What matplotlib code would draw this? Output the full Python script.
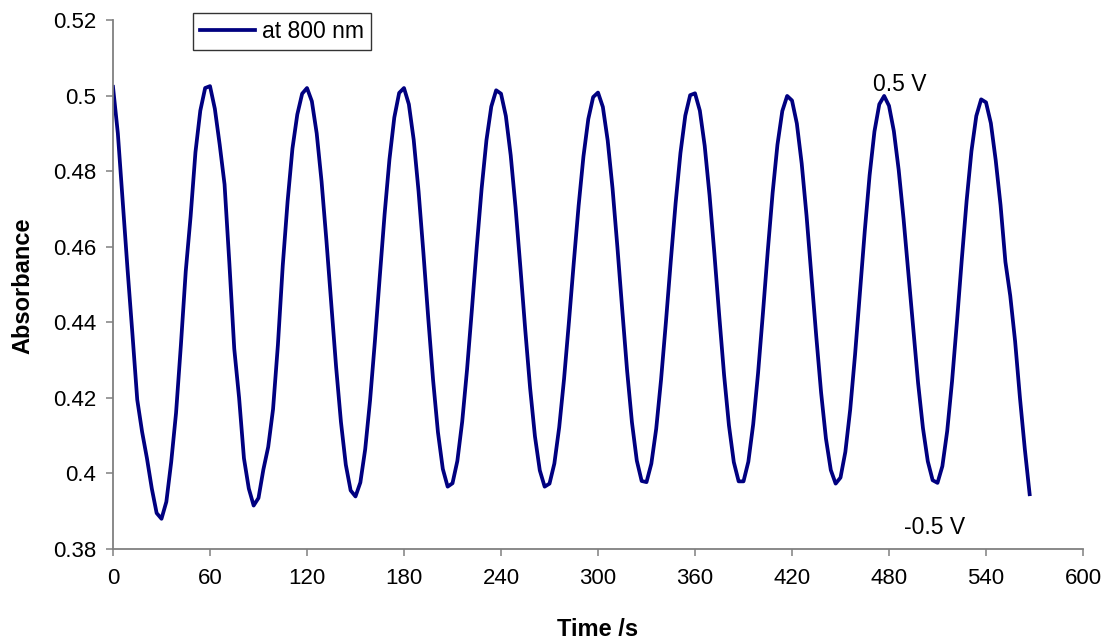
import numpy as np
import matplotlib
matplotlib.use("Agg")
import matplotlib.pyplot as plt
from matplotlib.ticker import FuncFormatter

plt.rcParams['font.family'] = ['Liberation Sans', 'DejaVu Sans']

# time in s (sampled every 3 s)
time_s = np.arange(0, 570, 3)

# absorbance at 800 nm
absorbance = [
    0.5023, 0.4900, 0.4720, 0.4540, 0.4370, 0.4195, 0.4110, 0.4040, 0.3960, 0.3895,
    0.3880, 0.3925, 0.4030, 0.4160, 0.4340, 0.4535, 0.4680, 0.4850, 0.4960, 0.5020,
    0.5025, 0.4965, 0.4870, 0.4765, 0.4555, 0.4330, 0.4200, 0.4040, 0.3960, 0.3915,
    0.3935, 0.4010, 0.4070, 0.4170, 0.4340, 0.4550, 0.4720, 0.4860, 0.4950, 0.5005,
    0.5020, 0.4985, 0.4900, 0.4773, 0.4617, 0.4448, 0.4282, 0.4136, 0.4023, 0.3955,
    0.3939, 0.3976, 0.4064, 0.4193, 0.4350, 0.4520, 0.4686, 0.4831, 0.4942, 0.5007,
    0.5020, 0.4977, 0.4883, 0.4747, 0.4584, 0.4411, 0.4247, 0.4109, 0.4012, 0.3965,
    0.3974, 0.4033, 0.4137, 0.4275, 0.4434, 0.4599, 0.4753, 0.4882, 0.4971, 0.5014,
    0.5005, 0.4946, 0.4842, 0.4704, 0.4545, 0.4380, 0.4226, 0.4098, 0.4008, 0.3965,
    0.3973, 0.4026, 0.4122, 0.4250, 0.4400, 0.4557, 0.4708, 0.4839, 0.4938, 0.4996,
    0.5008, 0.4970, 0.4881, 0.4754, 0.4599, 0.4433, 0.4272, 0.4135, 0.4034, 0.3980,
    0.3977, 0.4026, 0.4118, 0.4248, 0.4400, 0.4561, 0.4715, 0.4848, 0.4947, 0.5001,
    0.5006, 0.4960, 0.4867, 0.4736, 0.4581, 0.4417, 0.4260, 0.4127, 0.4030, 0.3979,
    0.3979, 0.4031, 0.4130, 0.4265, 0.4423, 0.4588, 0.4742, 0.4870, 0.4959, 0.4999,
    0.4987, 0.4926, 0.4820, 0.4682, 0.4524, 0.4363, 0.4214, 0.4092, 0.4009, 0.3973,
    0.3989, 0.4057, 0.4169, 0.4314, 0.4477, 0.4641, 0.4789, 0.4905, 0.4977, 0.4999,
    0.4973, 0.4906, 0.4803, 0.4674, 0.4528, 0.4379, 0.4239, 0.4120, 0.4032, 0.3982,
    0.3975, 0.4019, 0.4112, 0.4244, 0.4400, 0.4565, 0.4721, 0.4853, 0.4946, 0.4990,
    0.4982, 0.4927, 0.4829, 0.4710, 0.4560, 0.4470, 0.4350, 0.4200, 0.4065, 0.3945,
]

x_ticks = list(range(0, 601, 60))
y_ticks = [0.38, 0.40, 0.42, 0.44, 0.46, 0.48, 0.50, 0.52]

W, H = 1111, 642
fig = plt.figure(figsize=(W / 100, H / 100), dpi=100)
ax = fig.add_axes([113 / W, 1 - 549 / H, (1083 - 113) / W, (549 - 20) / H])

ax.plot(time_s, absorbance, color="#000080", lw=2.7, label="at 800 nm")

ax.set_xlim(0, 600)
ax.set_ylim(0.38, 0.52)
ax.set_xticks(x_ticks)
ax.set_yticks(y_ticks)
ax.yaxis.set_major_formatter(FuncFormatter(lambda v, p: "%g" % round(v, 2)))

for s in ["top", "right"]:
    ax.spines[s].set_visible(False)
for s in ["left", "bottom"]:
    ax.spines[s].set_color("#808080")
    ax.spines[s].set_linewidth(1.3)
ax.tick_params(direction="out", length=5, width=1.1, color="#808080", labelsize=16)
ax.tick_params(axis="y", pad=7)
ax.tick_params(axis="x", pad=9)

fig.text(598 / W, 1 - 629 / H, "Time /s", fontsize=17, fontweight="bold",
         ha="center", va="center")
fig.text(23 / W, 1 - 286 / H, "Absorbance", fontsize=17, fontweight="bold",
         ha="center", va="center", rotation=90)

ax.text(470, 0.5028, "0.5 V", fontsize=16.5, va="center", ha="left")
ax.text(489, 0.3858, "-0.5 V", fontsize=16.5, va="center", ha="left")

leg = ax.legend(loc="upper left", bbox_to_anchor=(193 / W, 1 - 13 / H),
                bbox_transform=fig.transFigure, fontsize=16.5,
                frameon=True, fancybox=False, handlelength=2.4, borderpad=0.3,
                handletextpad=0.3, borderaxespad=0)
leg.get_frame().set_edgecolor("black")
leg.get_frame().set_linewidth(1.0)

fig.savefig("out.png", dpi=100)
